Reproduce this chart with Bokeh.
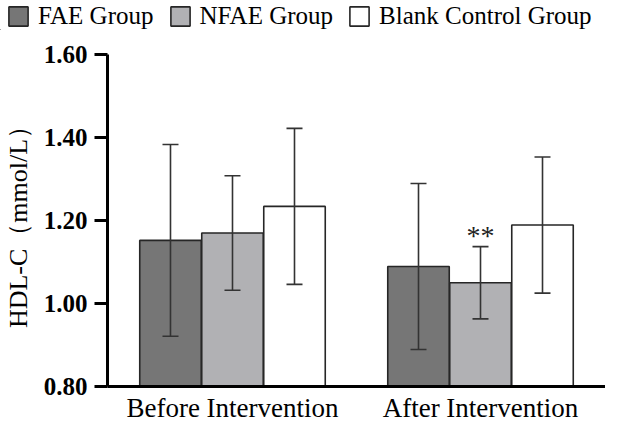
from bokeh.plotting import figure
from bokeh.layouts import column
from bokeh.models import (Range1d, FixedTicker, ColumnDataSource, Whisker, TeeHead,
                          Legend, LegendItem)
from bokeh.core.properties import value
from bokeh.embed import file_html
from bokeh.resources import INLINE

# ---- data ----
periods = ["Before Intervention", "After Intervention"]
groups = ["FAE Group", "NFAE Group", "Blank Control Group"]
fae_mean = [1.152, 1.089]
fae_sd = [0.231, 0.200]
nfae_mean = [1.170, 1.050]
nfae_sd = [0.138, 0.087]
blank_mean = [1.234, 1.189]
blank_sd = [0.188, 0.164]
y_ticks = [0.80, 1.00, 1.20, 1.40, 1.60]
y_tick_labels = ["0.80", "1.00", "1.20", "1.40", "1.60"]
star_period = 1          # index of period with ** mark (NFAE group)
star_text = "**"

colors = ["#767676", "#b1b1b4", "#ffffff"]
edge = "#262626"
offsets = [-0.25, 0.0, 0.25]
bar_w = 0.248
serif = "Liberation Serif"

# ---- main plot ----
p = figure(width=605, height=395, output_backend="svg", toolbar_location=None,
           x_range=Range1d(0.496, 2.504), y_range=Range1d(0.8, 1.6),
           min_border_left=103, min_border_right=0, min_border_top=24,
           min_border_bottom=39)
p.frame_align = False
p.outline_line_color = None
p.xgrid.visible = False
p.ygrid.visible = False
p.background_fill_color = "white"
p.border_fill_color = "white"

sources = []
series = [(fae_mean, fae_sd), (nfae_mean, nfae_sd), (blank_mean, blank_sd)]
for i, (m, s) in enumerate(series):
    xs = [k + 1 + offsets[i] for k in range(len(periods))]
    src = ColumnDataSource(dict(x=xs, top=m,
                                upper=[a + b for a, b in zip(m, s)],
                                lower=[a - b for a, b in zip(m, s)]))
    sources.append(src)
    p.vbar(x="x", top="top", bottom=0.8, width=bar_w, source=src,
           fill_color=colors[i], line_color=edge, line_width=1.6)
    w = Whisker(base="x", upper="upper", lower="lower", source=src,
                line_color="#333333", line_width=1.6, level="annotation",
                upper_head=TeeHead(size=16, line_color="#333333", line_width=1.6),
                lower_head=TeeHead(size=16, line_color="#333333", line_width=1.6))
    p.add_layout(w)

# significance mark
sx = [star_period + 1 + offsets[1]]
sy = [nfae_mean[star_period] + nfae_sd[star_period]]
p.text(x=sx, y=sy, text=[star_text], text_align="center", text_baseline="alphabetic",
       y_offset=-11, text_font=value(serif), text_font_size="28px", text_color="#222222")

# axes
p.yaxis.ticker = FixedTicker(ticks=y_ticks)
p.yaxis.major_label_overrides = {t: l for t, l in zip(y_ticks, y_tick_labels)}
p.yaxis.major_label_text_font = serif
p.yaxis.major_label_text_font_style = "bold"
p.yaxis.major_label_text_font_size = "25px"
p.yaxis.major_label_text_color = "black"
p.yaxis.major_label_standoff = 7
p.yaxis.major_tick_out = 13
p.yaxis.major_tick_in = 0
p.yaxis.major_tick_line_width = 3
p.yaxis.minor_tick_line_color = None
p.yaxis.axis_line_width = 3
p.yaxis.axis_label = "HDL-C（mmol/L）"
p.yaxis.axis_label_text_font = serif
p.yaxis.axis_label_text_font_style = "normal"
p.yaxis.axis_label_text_font_size = "26px"
p.yaxis.axis_label_text_color = "black"
p.yaxis.axis_label_standoff = 8

p.xaxis.ticker = FixedTicker(ticks=[1, 2])
p.xaxis.major_label_overrides = {1: periods[0], 2: periods[1]}
p.xaxis.major_label_text_font = serif
p.xaxis.major_label_text_font_size = "27px"
p.xaxis.major_label_text_color = "black"
p.xaxis.major_label_standoff = 6
p.xaxis.major_tick_out = 0
p.xaxis.major_tick_in = 0
p.xaxis.minor_tick_line_color = None
p.xaxis.axis_line_width = 3

# ---- legend strip (same series, drawn far out of view; only the legend shows) ----
lg = figure(width=605, height=30, output_backend="svg", toolbar_location=None,
            x_axis_type=None, y_axis_type=None,
            x_range=Range1d(50, 51), y_range=Range1d(50, 51),
            min_border_left=0, min_border_right=0, min_border_top=0, min_border_bottom=0)
lg.frame_align = False
lg.outline_line_color = None
lg.xgrid.visible = False
lg.ygrid.visible = False
items = []
for g, c, src in zip(groups, colors, sources):
    r = lg.vbar(x="x", top="top", bottom=0.8, width=bar_w, source=src,
                fill_color=c, line_color=edge, line_width=1.6)
    items.append(LegendItem(label=g, renderers=[r]))
legend = Legend(items=items, orientation="horizontal", location=(6, 0),
                glyph_width=24, glyph_height=24, label_standoff=8, spacing=14,
                padding=0, margin=0, border_line_color=None,
                background_fill_alpha=0,
                label_text_font=serif, label_text_font_size="25px",
                label_text_color="black", label_height=24)
lg.add_layout(legend, "center")

layout = column(lg, p, spacing=0)
open("out.html", "w").write(file_html(layout, INLINE))
